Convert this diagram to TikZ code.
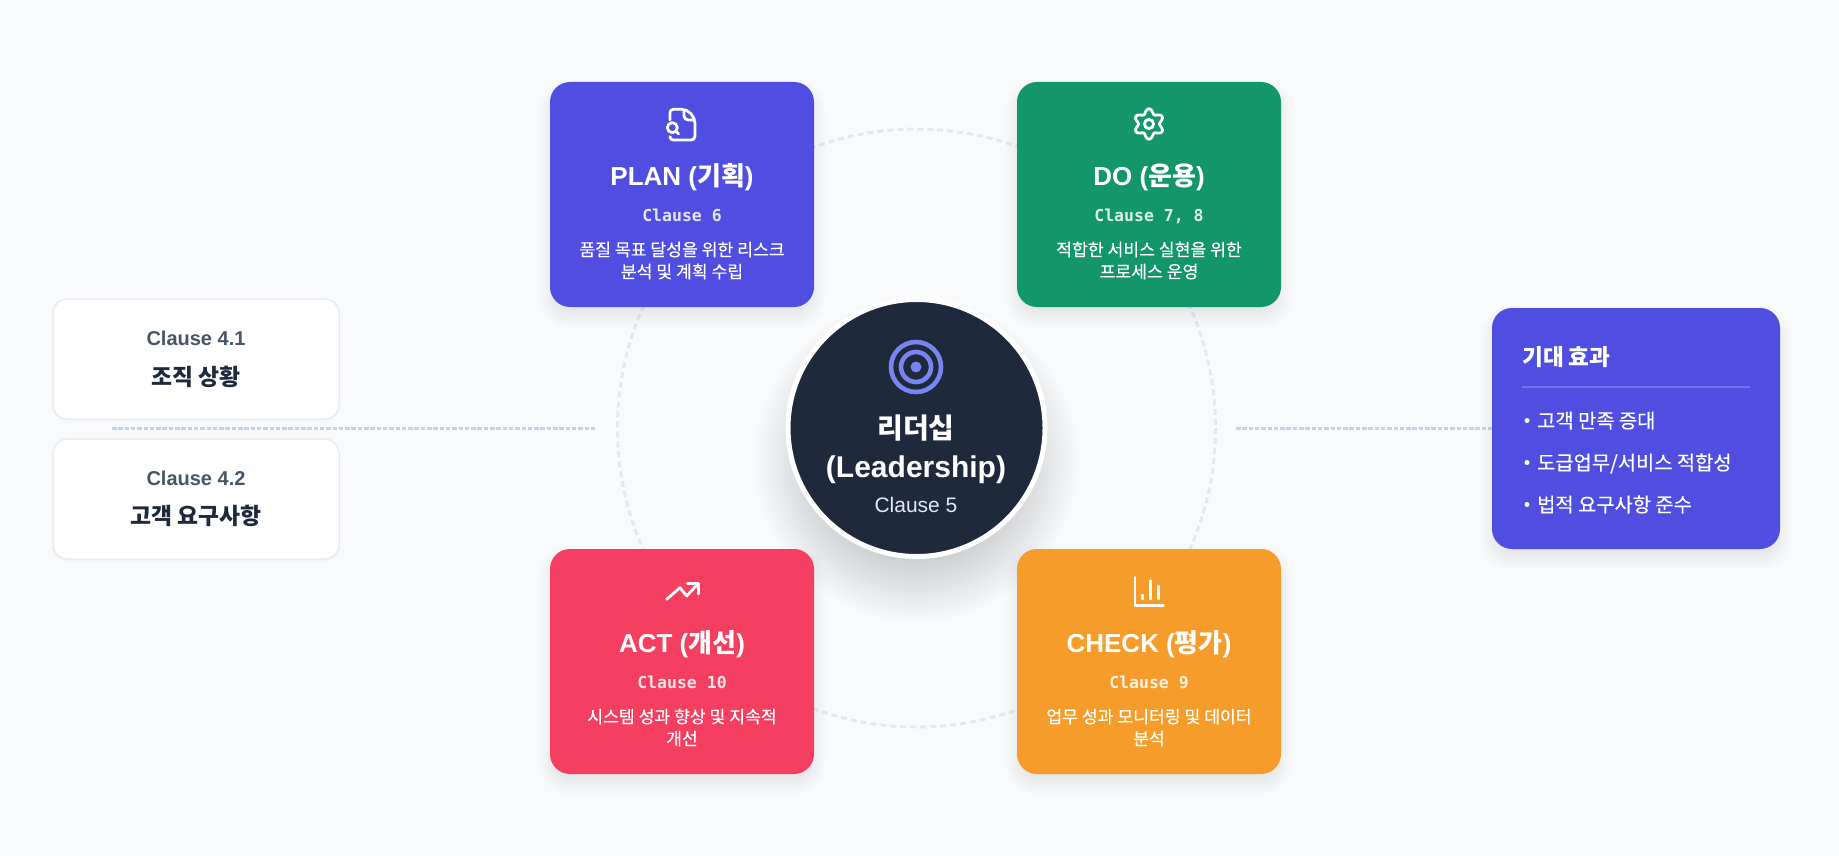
\documentclass[tikz,border=0pt]{standalone}
\usepackage{fontspec}
\setmainfont{Liberation Sans}
\newfontfamily\kofont{Noto Sans CJK KR}
\newfontfamily\komed[FakeBold=0.3]{Noto Sans CJK KR}
\newfontfamily\monof[BoldFont={DejaVu Sans Mono Bold}]{DejaVu Sans Mono}
\newcommand{\fs}[1]{\fontsize{#1}{#1}\selectfont}
\newcommand{\softshadow}[8]{% x1 y1 x2 y2 radius dy blur opacity
  \foreach \i in {1,...,12}{
    \pgfmathsetmacro{\gr}{#7*(1-\i/6.5)}
    \pgfmathsetmacro{\rr}{max(#5+\gr,0.5)}
    \fill[black,opacity=#8/12,rounded corners=\rr pt] (#1-\gr,#2+#6-\gr) rectangle (#3+\gr,#4+#6+\gr);
  }}
\definecolor{bgc}{HTML}{F8FAFC}
\definecolor{planc}{HTML}{4F4EE0}
\definecolor{doc}{HTML}{13966A}
\definecolor{actc}{HTML}{F43F60}
\definecolor{checkc}{HTML}{F59C2B}
\definecolor{darkc}{HTML}{1E293B}
\definecolor{ringc}{HTML}{E2E8F0}
\definecolor{linec}{HTML}{C6D3E2}
\definecolor{targetc}{HTML}{7885F0}
\definecolor{greyc}{HTML}{475569}
\definecolor{sub}{HTML}{E0E7FF}
\tikzset{
  card/.style={rounded corners=20pt,minimum width=264pt,minimum height=225pt,inner sep=0,text=white},
  sidecard/.style={fill=white,draw=ringc,line width=1pt,rounded corners=15pt,minimum width=286pt,minimum height=120pt,inner sep=0},
  t/.style={inner sep=0,anchor=base,text=white},
  ttl/.style={t,font=\fs{26}\bfseries},
  cls/.style={t,font=\fs{16.5}\monof\bfseries,opacity=.85},
  dsc/.style={t,font=\fs{17.2}\komed},
  icon/.style={draw=white,line width=2.8pt,line cap=round,line join=round},
  dashline/.style={draw=linec,line width=3.2pt,dash pattern=on 4.5pt off 1.8pt},
}
\begin{document}
\begin{tikzpicture}[x=1pt,y=-1pt]
\useasboundingbox (0,0) rectangle (1839,856);
\fill[bgc] (0,0) rectangle (1839,856);
% ring
\coordinate (cc) at (916.5,428);
\draw[ringc,line width=3pt,dash pattern=on 6pt off 4pt] (cc) circle (299);
% connectors
\coordinate (ls) at (112,428.5);
\coordinate (le) at (595,428.5);
\coordinate (rs) at (1236,428.5);
\coordinate (re) at (1492,428.5);
\draw[dashline] (ls) -- (le);
\draw[dashline] (rs) -- (re);
% shadows
\softshadow{550}{82}{814}{307}{20}{9}{14}{.09}
\softshadow{1017}{82}{1281}{307}{20}{9}{14}{.09}
\softshadow{550}{549}{814}{774}{20}{9}{14}{.09}
\softshadow{1017}{549}{1281}{774}{20}{9}{14}{.09}
\softshadow{1492}{308}{1780}{549}{20}{9}{14}{.09}
\softshadow{53}{299}{339}{419}{15}{1}{3}{.05}
\softshadow{53}{439}{339}{559}{15}{1}{3}{.05}
\foreach \i in {1,...,24}{
  \pgfmathsetmacro{\rr}{90+\i*3}
  \fill[black,opacity=.0065] (916.5,460) circle (\rr);
}
% cards
\node[card,fill=planc] (plan) at (682,194.5) {};
\node[card,fill=doc] (do) at (1149,194.5) {};
\node[card,fill=actc] (act) at (682,661.5) {};
\node[card,fill=checkc] (check) at (1149,661.5) {};
% center
\node[circle,fill=darkc,draw=white,line width=5pt,minimum size=257pt,inner sep=0] (center) at (cc) {};
% left cards
\node[sidecard] (c41) at (196,359) {};
\node[sidecard] (c42) at (196,499) {};
% right card
\node[rounded corners=20pt,fill=planc,minimum width=288pt,minimum height=241pt,inner sep=0] (eff) at (1636,428.5) {};
% PLAN
\node[ttl] (plant) at (682,185) {PLAN ({\kofont 기획})};
\node[cls] (planc1) at (682,221) {Clause 6};
\node[dsc] (pland1) at (682,256) {품질 목표 달성을 위한 리스크};
\node[dsc] (pland2) at (682,278) {분석 및 계획 수립};
% DO
\node[ttl] (dot) at (1149,185) {DO ({\kofont 운용})};
\node[cls] (doc1) at (1149,221) {Clause 7, 8};
\node[dsc] (dod1) at (1149,256) {적합한 서비스 실현을 위한};
\node[dsc] (dod2) at (1149,278) {프로세스 운영};
% ACT
\node[ttl] (actt) at (682,652) {ACT ({\kofont 개선})};
\node[cls] (actc1) at (682,688) {Clause 10};
\node[dsc] (actd1) at (682,723) {시스템 성과 향상 및 지속적};
\node[dsc] (actd2) at (682,745) {개선};
% CHECK
\node[ttl] (chkt) at (1149,652) {CHECK ({\kofont 평가})};
\node[cls] (chkc1) at (1149,688) {Clause 9};
\node[dsc] (chkd1) at (1149,723) {업무 성과 모니터링 및 데이터};
\node[dsc] (chkd2) at (1149,745) {분석};
% center text
\node[t,font=\fs{28}\kofont\bfseries] (ct1) at (916,438) {리더십};
\node[t,font=\fs{30}\bfseries] (ct2) at (916,477) {(Leadership)};
\node[t,font=\fs{21},text=sub] (ct3) at (916,512) {Clause 5};
% left text
\node[t,font=\fs{20}\bfseries,text=greyc] (l1a) at (196,345) {Clause 4.1};
\node[t,font=\fs{22.8}\kofont\bfseries,text=darkc] (l1b) at (196,385) {조직 상황};
\node[t,font=\fs{20}\bfseries,text=greyc] (l2a) at (196,485) {Clause 4.2};
\node[t,font=\fs{22.8}\kofont\bfseries,text=darkc] (l2b) at (196,524) {고객 요구사항};
% right text
\node[t,anchor=base west,font=\fs{22.6}\kofont\bfseries] (rt) at (1522,365) {기대 효과};
\coordinate (dl) at (1522,387);
\coordinate (dr) at (1750,387);
\draw[draw=white,opacity=.2,line width=1.5pt] (dl) -- (dr);
\node[t,anchor=base west,font=\fs{19.8}\komed] (r1) at (1537,428) {고객 만족 증대};
\node[t,anchor=base west,font=\fs{19.8}\komed] (r2) at (1537,470) {도급업무/서비스 적합성};
\node[t,anchor=base west,font=\fs{19.8}\komed] (r3) at (1537,512) {법적 요구사항 준수};
\fill[white] (1527,420.5) circle (2.5) (1527,462.5) circle (2.5) (1527,504.5) circle (2.5);
% target icon
\draw[targetc,line width=4.6pt] (916,367) circle (25) (916,367) circle (15);
\fill[targetc] (916,367) circle (5.5);
% doc icon
\begin{scope}[shift={(540,70)},x=.3333pt,y=-.3333pt]
\draw[icon] (390,150) -- (390,128) .. controls (390,122) and (394,118) .. (400,118) -- (425,118)
  .. controls (445,118) and (465,138) .. (465,160) -- (465,198) .. controls (465,206) and (460,210) .. (453,210) -- (400,210) .. controls (394,210) and (390,206) .. (390,200);
\draw[icon] (432,120) -- (432,138) .. controls (432,145) and (438,150) .. (445,150) -- (463,150);
\draw[icon] (397,173) circle (15) (408,184) -- (416,192);
\end{scope}
% gear icon
\draw[icon] plot[smooth cycle,domain=0:354,samples=60] ({1149+(12.8+2.4*cos(6*(\x-90)))*cos(\x)},{124+(12.8+2.4*cos(6*(\x-90)))*sin(\x)});
\draw[icon] (1149,124) circle (4.6);
% trend icon
\begin{scope}[shift={(540,540)},x=.3333pt,y=-.3333pt]
\draw[icon] (380,178) -- (420,143) -- (440,168) -- (474,132);
\draw[icon] (442,131) -- (475,131) -- (475,162);
\end{scope}
% chart icon
\begin{scope}[shift={(1000,540)},x=.3333pt,y=-.3333pt]
\draw[icon] (405,112) -- (405,196) -- (490,196);
\draw[icon] (428,165) -- (428,177) (452,122) -- (452,177) (476,138) -- (476,177);
\end{scope}
\end{tikzpicture}
\end{document}
